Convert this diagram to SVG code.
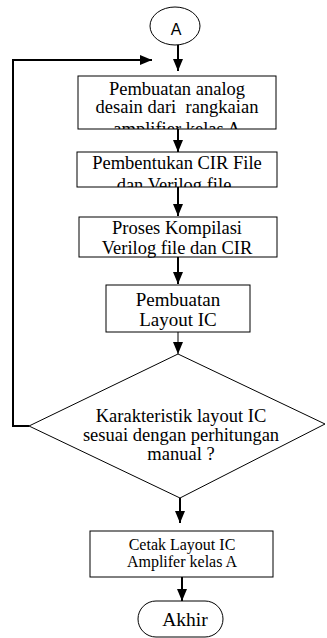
<svg xmlns="http://www.w3.org/2000/svg" width="327" height="638" viewBox="0 0 327 638">
<style>
.box{fill:#fff;stroke:#000;stroke-width:1}
.t{font-family:"Liberation Serif","Times New Roman",serif;fill:#000;text-anchor:middle}
.c{fill:none;stroke:#000;stroke-width:2}
.thin{fill:none;stroke:#000;stroke-width:1}
</style>
<defs>
<marker id="ah" markerUnits="userSpaceOnUse" markerWidth="12" markerHeight="10" refX="12" refY="5" orient="auto">
<path d="M0,0 L12,5 L0,10 Z" fill="#000"/>
</marker>
<clipPath id="cp1"><rect x="78" y="76" width="198" height="53"/></clipPath>
<clipPath id="cp2"><rect x="77" y="152" width="200" height="35"/></clipPath>
</defs>
<g id="connectors">
<line class="c" x1="178" y1="45" x2="178" y2="71" marker-end="url(#ah)"/>
<polyline class="c" points="29,426 13,426 13,60 152,60" marker-end="url(#ah)"/>
<line class="c" x1="178" y1="129" x2="178" y2="152" marker-end="url(#ah)"/>
<line class="c" x1="178" y1="187" x2="178" y2="216" marker-end="url(#ah)"/>
<line class="c" x1="178" y1="257" x2="178" y2="284" marker-end="url(#ah)"/>
<line class="thin" x1="178" y1="332" x2="178" y2="354" marker-end="url(#ah)"/>
<line class="c" x1="180" y1="498" x2="180" y2="523" marker-end="url(#ah)"/>
<line class="c" x1="182" y1="577" x2="182" y2="601" marker-end="url(#ah)"/>
</g>
<g id="start">
<ellipse cx="175" cy="26" rx="25" ry="19" fill="#fff" stroke="#000" stroke-width="1"/>
<text x="176" y="35" font-family="Liberation Sans, Arial, sans-serif" font-size="16" text-anchor="middle">A</text>
</g>
<g id="box1">
<rect class="box" x="78" y="76" width="198" height="53"/>
<g clip-path="url(#cp1)">
<text class="t" font-size="18.5" x="177" y="95">Pembuatan analog</text>
<text class="t" font-size="18.5" x="177" y="113" xml:space="preserve">desain dari  rangkaian</text>
<text class="t" font-size="18.5" x="177" y="135">amplifier kelas A</text>
</g>
</g>
<g id="box2">
<rect class="box" x="77" y="152" width="200" height="35"/>
<g clip-path="url(#cp2)">
<text class="t" font-size="18.5" x="177" y="169">Pembentukan CIR File</text>
<text class="t" font-size="18.5" x="174" y="191">dan Verilog file</text>
</g>
</g>
<g id="box3">
<rect class="box" x="79" y="217" width="198" height="40"/>
<text class="t" font-size="18.5" x="177" y="234">Proses Kompilasi</text>
<text class="t" font-size="18.5" x="177" y="254">Verilog file dan CIR</text>
</g>
<g id="box4">
<rect class="box" x="106" y="285" width="144" height="47"/>
<text class="t" font-size="19" x="178" y="306">Pembuatan</text>
<text class="t" font-size="19" x="178" y="326">Layout IC</text>
</g>
<g id="decision">
<polygon points="178,354 325,424 180,498 29,426" fill="#fff" stroke="#000" stroke-width="1"/>
<text class="t" font-size="18.5" x="181" y="422">Karakteristik layout IC</text>
<text class="t" font-size="18.5" x="181" y="441">sesuai dengan perhitungan</text>
<text class="t" font-size="18.5" x="181" y="460">manual ?</text>
</g>
<g id="box5">
<rect class="box" x="90" y="531" width="183" height="46"/>
<text class="t" font-size="16" x="182" y="550">Cetak Layout IC</text>
<text class="t" font-size="16" x="182" y="567">Amplifer kelas A</text>
</g>
<g id="end">
<rect class="box" x="138" y="601" width="85" height="36" rx="18" ry="18"/>
<text class="t" font-size="19.5" x="185" y="626">Akhir</text>
</g>
</svg>
